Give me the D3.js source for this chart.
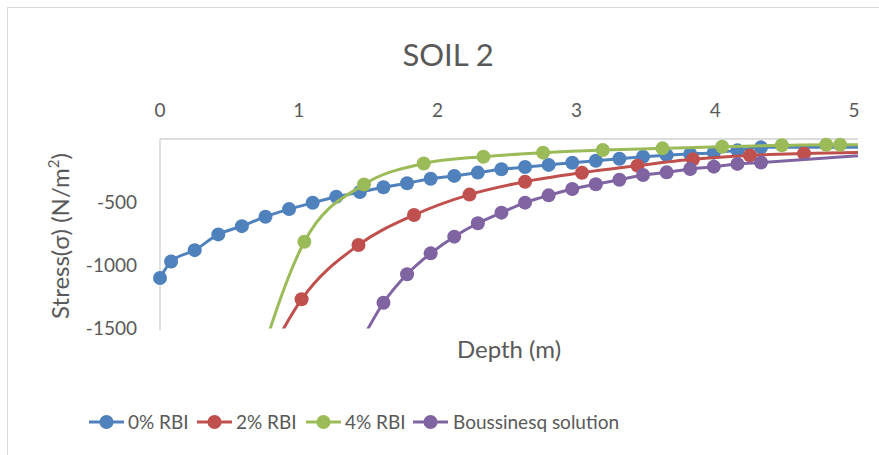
<!DOCTYPE html>
<html>
<head>
<meta charset="utf-8">
<script src="https://cdn.jsdelivr.net/npm/d3@7"></script>
<style>
  html, body { margin: 0; padding: 0; background: #fff; }
  svg { display: block; font-family: Lato, "Open Sans", sans-serif; }
</style>
</head>
<body>
<svg id="chart" width="879" height="455"></svg>
<script>
// Axis ticks
const depthTicks = [0, 1, 2, 3, 4, 5];
const stressTicks = [-500, -1000, -1500];

// 0% RBI
const depth0 = [0, 0.08, 0.25, 0.42, 0.59, 0.76, 0.93, 1.10, 1.27, 1.44, 1.61, 1.78, 1.95, 2.12,
  2.29, 2.46, 2.63, 2.80, 2.97, 3.14, 3.31, 3.48, 3.65, 3.82, 3.99, 4.16, 4.33, 5.5];
const stress0 = [-1100, -970, -880, -755, -690, -615, -555, -505, -457, -420, -382, -350, -315, -292,
  -266, -240, -222, -205, -188, -172, -156, -141, -128, -118, -108, -90, -66, -66];

// 2% RBI
const depth2 = [0.62, 1.02, 1.43, 1.83, 2.23, 2.63, 3.04, 3.44, 3.84, 4.25, 4.64, 5.5];
const stress2 = [-2100, -1269, -839, -602, -440, -338, -267, -211, -161, -130, -115, -100];

// 4% RBI
const depth4 = [0.61, 1.04, 1.47, 1.90, 2.33, 2.76, 3.19, 3.62, 4.05, 4.48, 4.80, 4.90, 5.5];
const stress4 = [-2150, -813, -360, -194, -140, -108, -87, -74, -61, -50, -45, -45, -43];

// Boussinesq solution
const depthB = [1.44, 1.61, 1.78, 1.95, 2.12, 2.29, 2.46, 2.63, 2.80, 2.97, 3.14, 3.31, 3.48,
  3.65, 3.82, 3.99, 4.16, 4.33, 5.5];
const stressB = [-1620, -1296, -1071, -905, -773, -667, -583, -504, -446, -396, -358, -322, -285,
  -264, -237, -219, -197, -186, -97];

const seriesNames = ["0% RBI", "2% RBI", "4% RBI", "Boussinesq solution"];
const seriesColors = ["#4F81BD", "#C0504D", "#9BBB59", "#8064A2"];

const series = [
  { name: seriesNames[0], color: seriesColors[0], xs: depth0, ys: stress0 },
  { name: seriesNames[1], color: seriesColors[1], xs: depth2, ys: stress2 },
  { name: seriesNames[2], color: seriesColors[2], xs: depth4, ys: stress4 },
  { name: seriesNames[3], color: seriesColors[3], xs: depthB, ys: stressB }
].map(s => ({ ...s, pts: s.xs.map((x, i) => [x, s.ys[i]]) }));

const textColor = "#595959";
const svg = d3.select("#chart");

// Chart frame
svg.append("rect")
  .attr("x", 7.5).attr("y", 7.5)
  .attr("width", 900).attr("height", 500)
  .attr("fill", "#fff").attr("stroke", "#d9d9d9").attr("stroke-width", 1);

const x = d3.scaleLinear().domain([0, 5]).range([160, 854]);
const y = d3.scaleLinear().domain([-1500, 0]).range([328.5, 139]);
const plotLeft = x(0), plotRight = x(5) + 4, plotTop = y(0), plotBottom = y(-1500);

svg.append("defs").append("clipPath").attr("id", "plot-clip")
  .append("rect")
  .attr("x", plotLeft).attr("y", plotTop)
  .attr("width", plotRight - plotLeft).attr("height", plotBottom - plotTop);

// Title
svg.append("text")
  .attr("x", 448).attr("y", 66)
  .attr("text-anchor", "middle")
  .attr("font-size", 31)
  .attr("fill", textColor)
  .text("SOIL 2");

// Axis lines (depth axis sits at stress = 0, along the top)
svg.append("line")
  .attr("x1", plotLeft).attr("x2", plotRight)
  .attr("y1", plotTop).attr("y2", plotTop)
  .attr("stroke", "#d0d0d0").attr("stroke-width", 1.3);
svg.append("line")
  .attr("x1", plotLeft).attr("x2", plotLeft)
  .attr("y1", plotTop).attr("y2", plotBottom + 1.5)
  .attr("stroke", "#d0d0d0").attr("stroke-width", 1.3);

// Depth tick labels above the plot
svg.append("g").selectAll("text")
  .data(depthTicks).join("text")
  .attr("x", d => x(d)).attr("y", 116.5)
  .attr("text-anchor", "middle")
  .attr("font-size", 19)
  .attr("fill", textColor)
  .text(d => d);

// Stress tick labels
svg.append("g").selectAll("text")
  .data(stressTicks).join("text")
  .attr("x", 137).attr("y", d => y(d))
  .attr("dy", "0.35em")
  .attr("text-anchor", "end")
  .attr("font-size", 19)
  .attr("fill", textColor)
  .text(d => d);

// Axis titles
svg.append("text")
  .attr("x", (plotLeft + plotRight) / 2).attr("y", 358)
  .attr("text-anchor", "middle")
  .attr("font-size", 24)
  .attr("fill", textColor)
  .text("Depth (m)");

const yTitle = svg.append("text")
  .attr("transform", "translate(69,236) rotate(-90)")
  .attr("text-anchor", "middle")
  .attr("font-size", 24)
  .attr("fill", textColor);
yTitle.append("tspan").text("Stress(σ) (N/m");
yTitle.append("tspan").attr("font-size", 15).attr("dy", -10).text("2");
yTitle.append("tspan").attr("dy", 10).text(")");

// Series
const line = d3.line()
  .x(d => x(d[0])).y(d => y(d[1]))
  .curve(d3.curveMonotoneX);

const inRange = d => d[0] >= 0 && d[0] <= 5 && d[1] >= -1500 && d[1] <= 0;

series.forEach(s => {
  const g = svg.append("g");
  g.append("path")
    .attr("d", line(s.pts))
    .attr("fill", "none")
    .attr("stroke", s.color)
    .attr("stroke-width", 3)
    .attr("clip-path", "url(#plot-clip)");
  g.selectAll("circle")
    .data(s.pts.filter(inRange)).join("circle")
    .attr("cx", d => x(d[0])).attr("cy", d => y(d[1]))
    .attr("r", 7)
    .attr("fill", s.color);
});

// Legend
const legendY = 422;
const legendItems = [
  { lineX: 89, textX: 128 },
  { lineX: 197, textX: 236 },
  { lineX: 306, textX: 345 },
  { lineX: 413, textX: 453 }
];
const legend = svg.append("g");
series.forEach((s, i) => {
  const it = legendItems[i];
  legend.append("line")
    .attr("x1", it.lineX).attr("x2", it.lineX + 35)
    .attr("y1", legendY).attr("y2", legendY)
    .attr("stroke", s.color).attr("stroke-width", 3);
  legend.append("circle")
    .attr("cx", it.lineX + 17.5).attr("cy", legendY)
    .attr("r", 7).attr("fill", s.color);
  legend.append("text")
    .attr("x", it.textX).attr("y", legendY)
    .attr("dy", "0.35em")
    .attr("font-size", 19)
    .attr("fill", textColor)
    .text(s.name);
});
</script>
</body>
</html>
